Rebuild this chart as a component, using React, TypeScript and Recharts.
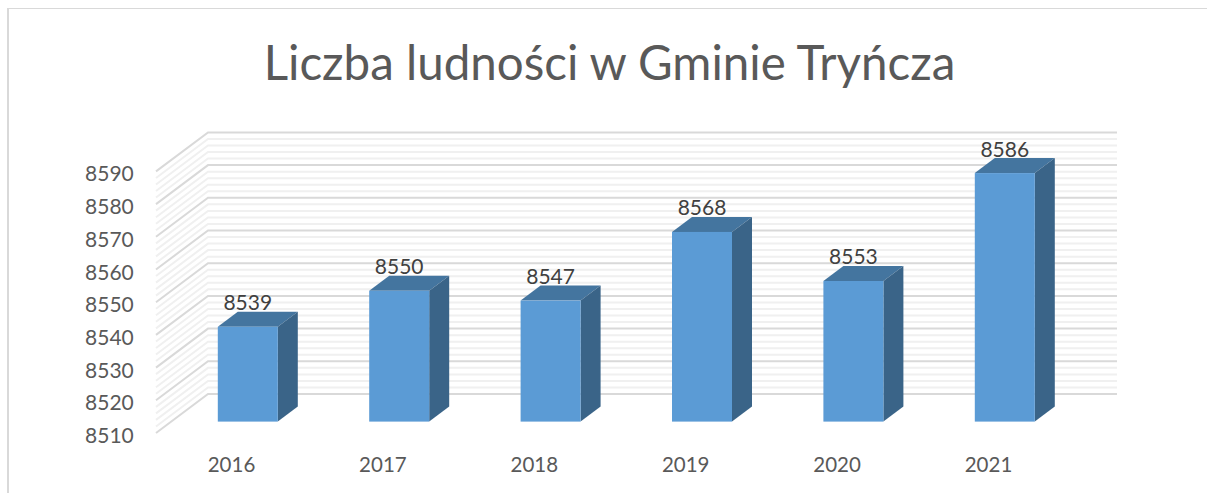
import { BarChart, Bar, XAxis, YAxis, CartesianGrid, LabelList } from "recharts";

const years = ["2016", "2017", "2018", "2019", "2020", "2021"];
const population = [8539, 8550, 8547, 8568, 8553, 8586];
const majorTicks = [8510, 8520, 8530, 8540, 8550, 8560, 8570, 8580, 8590];
const minorTicks = [
  8512, 8514, 8516, 8518, 8522, 8524, 8526, 8528, 8532, 8534, 8536, 8538,
  8542, 8544, 8546, 8548, 8552, 8554, 8556, 8558, 8562, 8564, 8566, 8568,
  8572, 8574, 8576, 8578, 8582, 8584, 8586, 8588,
];

const data = years.map((year, i) => ({ year, value: population[i] }));

const FONT = "Lato, sans-serif";
const DEPTH_X = 20;
const DEPTH_Y = 15;

// floor/wall line: side wall from the front edge to the back, then along the back wall
const wallLine = (color: string, width: number) => (props: any) => {
  const y = props.y1;
  return (
    <polyline
      key={props.key ?? y}
      points={`156,${y + 11.4} 208,${y - 27.6} 1117,${y - 27.6}`}
      fill="none"
      stroke={color}
      strokeWidth={width}
    />
  );
};

function Bar3D(props: any) {
  const { x, y, width, height } = props;
  const r = x + width;
  const b = y + height;
  return (
    <g>
      <polygon
        points={`${x},${y} ${x + DEPTH_X},${y - DEPTH_Y} ${r + DEPTH_X},${y - DEPTH_Y} ${r},${y}`}
        fill="#44759f"
      />
      <polygon
        points={`${r},${y} ${r + DEPTH_X},${y - DEPTH_Y} ${r + DEPTH_X},${b - DEPTH_Y} ${r},${b}`}
        fill="#3a6488"
      />
      <rect x={x} y={y} width={width} height={height} fill="#5b9bd5" />
    </g>
  );
}

export default function App() {
  return (
    <div style={{ position: "absolute", left: 0, top: 0, width: 1207, height: 493, background: "#fff", overflow: "hidden" }}>
      <div style={{ position: "absolute", left: 7, top: 8, width: 1200, height: 485, borderLeft: "2px solid #d9d9d9", borderTop: "1px solid #d9d9d9" }} />
      <div style={{ position: "absolute", left: 0, right: 0, top: 30, paddingLeft: 12, textAlign: "center", fontFamily: FONT, fontSize: 47.5, color: "#595959", lineHeight: "64px" }}>
        Liczba ludności w Gminie Tryńcza
      </div>
      <BarChart
        width={1207}
        height={493}
        data={data}
        margin={{ top: 160, right: 126.8, bottom: 0, left: 0 }}
        style={{ position: "absolute", left: 0, top: 0 }}
      >
        <CartesianGrid vertical={false} horizontalValues={minorTicks} horizontal={wallLine("#f0f0f0", 2)} />
        <CartesianGrid vertical={false} horizontalValues={majorTicks} horizontal={wallLine("#d9d9d9", 2)} />
        <XAxis
          dataKey="year"
          height={71.4}
          axisLine={false}
          tickLine={false}
          tickMargin={30}
          tick={{ fontSize: 20.5, fill: "#595959", fontFamily: FONT, dx: -16 }}
        />
        <YAxis
          width={171.8}
          domain={[8510, 8590]}
          ticks={majorTicks}
          interval={0}
          axisLine={false}
          tickLine={false}
          tickMargin={32}
          tick={{ fontSize: 21, fill: "#595959", fontFamily: FONT, dy: 14 }}
        />
        <Bar dataKey="value" barSize={60} shape={Bar3D} isAnimationActive={false}>
          <LabelList dataKey="value" position="top" offset={16.5} fontSize={21} fill="#404040" fontFamily={FONT} />
        </Bar>
      </BarChart>
    </div>
  );
}
